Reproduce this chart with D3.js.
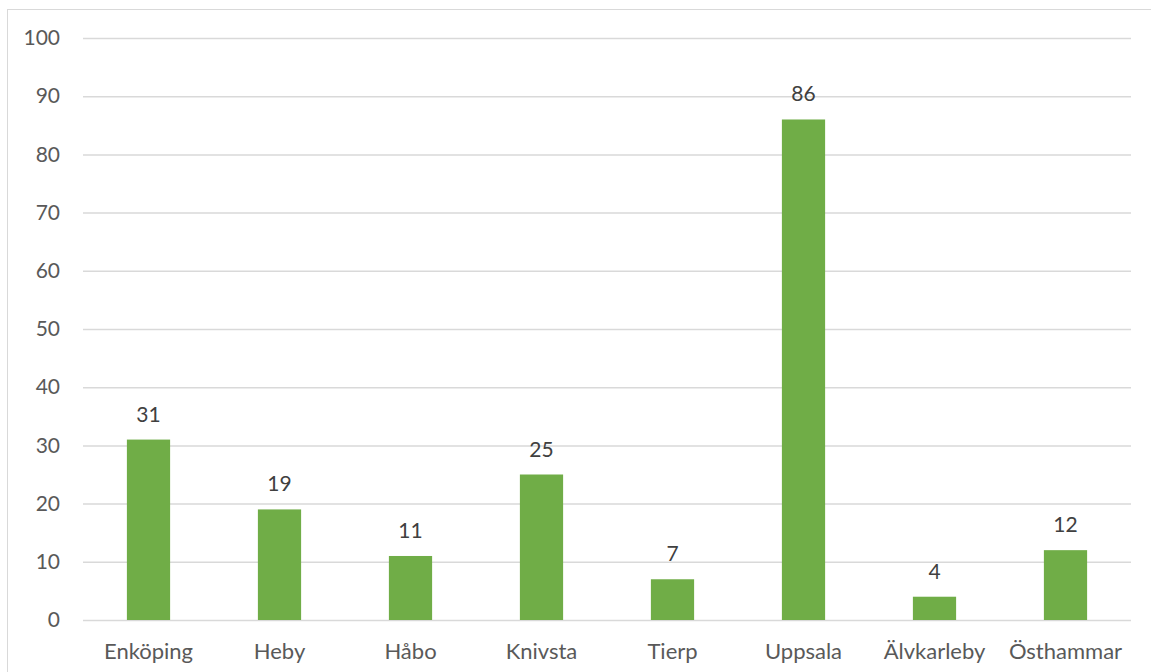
<!DOCTYPE html>
<html><head><meta charset="utf-8">
<script src="https://cdn.jsdelivr.net/npm/d3@7"></script>
<style>body{margin:0;background:#fff}svg{display:block}</style>
</head><body>
<script>
const categories = ["Enköping","Heby","Håbo","Knivsta","Tierp","Uppsala","Älvkarleby","Östhammar"];
const values = [31,19,11,25,7,86,4,12];
const yTicks = [0,10,20,30,40,50,60,70,80,90,100];

(function(){
const W = 1151, H = 672;
const svg = d3.select("body").append("svg").attr("width",W).attr("height",H);
const font = "Lato, 'Open Sans', sans-serif";

svg.append("rect").attr("x",7.5).attr("y",9.5).attr("width",W+10).attr("height",H+10)
  .attr("fill","#fff").attr("stroke","#d9d9d9").attr("stroke-width",1);

const mLeft = 83, mRight = 1131, mTop = 38, mBottom = 620;
const x = d3.scaleBand().domain(categories).range([mLeft,mRight]).paddingInner(0.67).paddingOuter(0.335);
const y = d3.scaleLinear().domain([0,100]).range([mBottom,mTop]);

const yAxis = d3.axisLeft(y).tickValues(yTicks).tickSize(-(mRight-mLeft)).tickPadding(23);
const gy = svg.append("g").attr("transform",`translate(${mLeft},0)`).call(yAxis);
gy.select(".domain").remove();
gy.selectAll(".tick line").attr("stroke","#d9d9d9").attr("stroke-width",1.5);
gy.selectAll(".tick text").attr("fill","#595959").style("font-family",font).style("font-size","21px");

svg.append("g").selectAll("rect").data(values).join("rect")
  .attr("x",(d,i)=>x(categories[i])).attr("width",x.bandwidth())
  .attr("y",d=>y(d)).attr("height",d=>y(0)-y(d)).attr("fill","#70ad47");

svg.append("g").selectAll("text").data(values).join("text")
  .attr("x",(d,i)=>x(categories[i])+x.bandwidth()/2).attr("y",d=>y(d)-18)
  .attr("text-anchor","middle").attr("fill","#404040")
  .style("font-family",font).style("font-size","21px").text(d=>d);

const xAxis = d3.axisBottom(x).tickSize(0).tickPadding(23);
const gx = svg.append("g").attr("transform",`translate(0,${mBottom})`).call(xAxis);
gx.select(".domain").remove();
gx.selectAll(".tick text").attr("fill","#595959").style("font-family",font).style("font-size","22px");
})();
</script>
</body></html>
